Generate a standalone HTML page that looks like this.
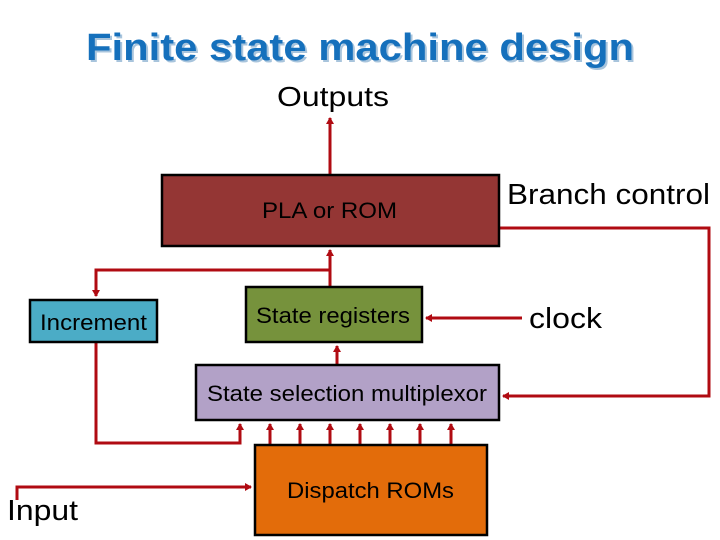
<!DOCTYPE html>
<html><head><meta charset="utf-8"><style>
html,body{margin:0;padding:0;background:#fff;}
svg{display:block;font-family:"Liberation Sans",sans-serif;}
</style></head><body>
<svg width="720" height="540" viewBox="0 0 720 540" xmlns="http://www.w3.org/2000/svg">
<defs>
<marker id="a" markerWidth="8" markerHeight="8" refX="6" refY="4" orient="auto" markerUnits="userSpaceOnUse">
<path d="M0,0 L7,4 L0,8 Z" fill="#b00b12"/></marker>
</defs>
<text x="88" y="62" font-size="38" font-weight="bold" fill="#a8c4dc" textLength="548" lengthAdjust="spacingAndGlyphs">Finite state machine design</text>
<text x="86" y="60" font-size="38" font-weight="bold" fill="#1570bc" textLength="548" lengthAdjust="spacingAndGlyphs">Finite state machine design</text>
<text x="277" y="106" font-size="28" fill="#000" textLength="112" lengthAdjust="spacingAndGlyphs">Outputs</text>

<g stroke="#b00b12" stroke-width="3" fill="none">
<line x1="330" y1="175" x2="330" y2="118" marker-end="url(#a)"/>
<line x1="330" y1="287" x2="330" y2="250" marker-end="url(#a)"/>
<polyline points="330,270 96,270 96,296" marker-end="url(#a)"/>
<polyline points="96,342 96,443 240,443 240,424" marker-end="url(#a)"/>
<line x1="270" y1="445" x2="270" y2="424" marker-end="url(#a)"/>
<line x1="300" y1="445" x2="300" y2="424" marker-end="url(#a)"/>
<line x1="330" y1="445" x2="330" y2="424" marker-end="url(#a)"/>
<line x1="360" y1="445" x2="360" y2="424" marker-end="url(#a)"/>
<line x1="390" y1="445" x2="390" y2="424" marker-end="url(#a)"/>
<line x1="420" y1="445" x2="420" y2="424" marker-end="url(#a)"/>
<line x1="451" y1="445" x2="451" y2="424" marker-end="url(#a)"/>
<line x1="337" y1="365" x2="337" y2="346" marker-end="url(#a)"/>
<line x1="522" y1="318" x2="426" y2="318" marker-end="url(#a)"/>
<polyline points="499,228 709,228 709,396 503,396" marker-end="url(#a)"/>
<polyline points="17,500 17,487 251,487" marker-end="url(#a)"/>
</g>

<g stroke="#000" stroke-width="2.5">
<rect x="162" y="175" width="337" height="71" fill="#943634"/>
<rect x="30" y="300" width="127" height="42" fill="#4bacc6"/>
<rect x="246" y="287" width="176" height="55" fill="#76923c"/>
<rect x="196" y="365" width="303" height="55" fill="#b2a1c7"/>
<rect x="255" y="445" width="232" height="90" fill="#e36c0a"/>
</g>
<g font-size="22" fill="#000" lengthAdjust="spacingAndGlyphs">
<text x="262" y="218" textLength="135" lengthAdjust="spacingAndGlyphs">PLA or ROM</text>
<text x="40" y="330" textLength="107" lengthAdjust="spacingAndGlyphs">Increment</text>
<text x="256" y="323" textLength="154" lengthAdjust="spacingAndGlyphs">State registers</text>
<text x="207" y="401" textLength="280" lengthAdjust="spacingAndGlyphs">State selection multiplexor</text>
<text x="287" y="498" textLength="167" lengthAdjust="spacingAndGlyphs">Dispatch ROMs</text>
</g>
<g font-size="29" fill="#000">
<text x="507" y="204" textLength="203" lengthAdjust="spacingAndGlyphs">Branch control</text>
<text x="529" y="328" textLength="73" lengthAdjust="spacingAndGlyphs">clock</text>
<text x="7" y="520" textLength="71" lengthAdjust="spacingAndGlyphs">Input</text>
</g>
</svg>
</body></html>
